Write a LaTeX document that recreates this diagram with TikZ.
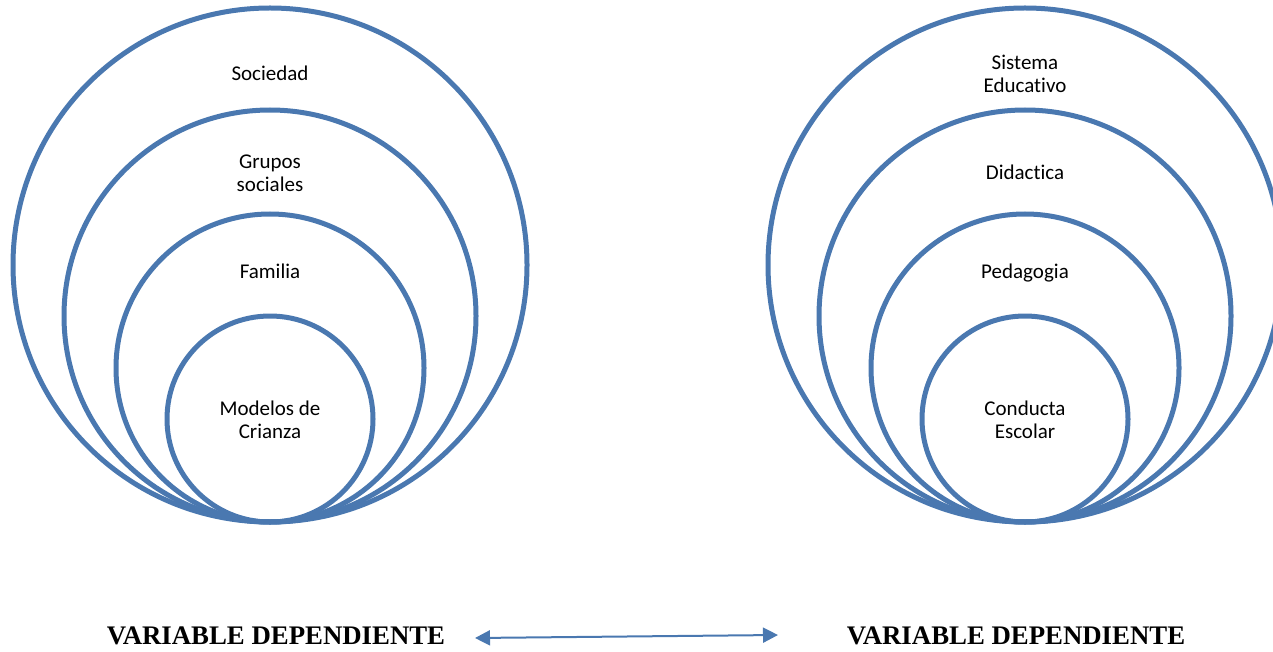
\documentclass[tikz,border=0pt]{standalone}
\usepackage{fontspec}
\setmainfont{Carlito}[Ligatures={NoCommon,NoContextual}]
\newfontfamily\titlefont{Liberation Serif}
\usetikzlibrary{arrows.meta}
\definecolor{anillo}{HTML}{4A78B0}
\begin{document}
\begin{tikzpicture}[x=1pt, y=-1pt,
    ring/.style={draw=anillo, line width=5pt},
    lbl/.style={align=center, inner sep=0pt, font=\fontsize{21}{23}\selectfont},
    vartxt/.style={inner sep=0pt, font=\titlefont\bfseries\fontsize{26.8}{30}\selectfont}]
    \useasboundingbox (0,0) rectangle (1273,652);

    % Circulos tangentes en la base (y=522), radios 257, 206, 154, 103
    \foreach \cx in {270, 1025}
        \foreach \r in {257, 206, 154, 103}
            \draw[ring] (\cx, 522-\r) circle (\r pt);

    % Variable de la izquierda
    \node[lbl] (soc) at (270, 73)  {Sociedad};
    \node[lbl] (grp) at (270, 173) {Grupos\\sociales};
    \node[lbl] (fam) at (270, 271) {Familia};
    \node[lbl] (mod) at (270, 420) {Modelos de\\Crianza};

    % Variable de la derecha
    \node[lbl] (sis) at (1025, 74)  {Sistema\\Educativo};
    \node[lbl] (did) at (1025, 172) {Didactica};
    \node[lbl] (ped) at (1025, 273) {Pedagogia};
    \node[lbl] (con) at (1025, 420) {Conducta\\Escolar};

    % Rotulos inferiores y flecha doble
    \node[vartxt] (varL) at (276, 636) {VARIABLE DEPENDIENTE};
    \node[vartxt] (varR) at (1016, 636) {VARIABLE DEPENDIENTE};
    \coordinate (arrL) at (475, 638);
    \coordinate (arrR) at (778, 635);
    \draw[anillo, line width=2pt, {Triangle[length=15pt, width=15pt]}-{Triangle[length=15pt, width=15pt]}]
        (arrL) -- (arrR);
\end{tikzpicture}
\end{document}
